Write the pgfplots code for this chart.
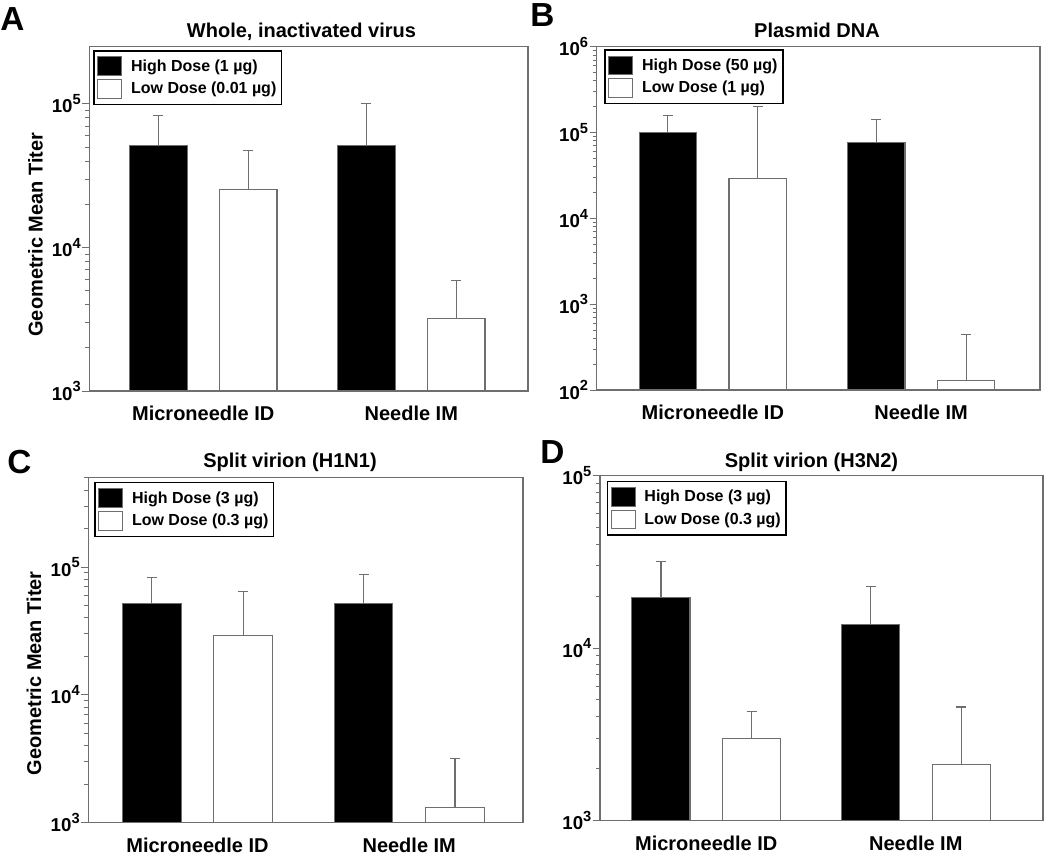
\documentclass[border=0pt]{standalone}
\usepackage{fontspec}
\setmainfont{Liberation Sans}
\usepackage{pgfplots}
\pgfplotsset{compat=1.18}
\definecolor{frm}{RGB}{110,110,110}
\pgfplotsset{
  every axis/.append style={
    scale only axis,
    xtick={1,2}, xticklabels={Microneedle ID,Needle IM},
    xtick style={draw=none},
    xticklabel style={font=\bfseries\fontsize{15}{15}\selectfont, inner sep=0pt, yshift=-6pt},
    ytick pos=left, tick align=outside,
    major tick length=5.25pt, minor tick length=3pt,
    every tick/.style={frm, line width=0.6pt},
    axis line style={frm, line width=0.9pt},
    yticklabel={\pgfmathparse{int(round(\tick/2.302585093))}10\raisebox{0.45em}{\fontsize{11}{11}\selectfont\pgfmathresult}},
    yticklabel style={font=\bfseries\fontsize{14}{14}\selectfont, inner sep=1pt},
    legend cell align=left,
    legend style={anchor=north west, draw=black, line width=1.1pt,
      font=\bfseries\fontsize{12}{14}\selectfont,
      inner xsep=2.5pt, inner ysep=4.2pt, row sep=2.2pt, column sep=5pt,
      nodes={inner sep=1.5pt, font=\bfseries\fontsize{12}{14}\selectfont}},
  },
  leg/.style={legend image code/.code={\draw[##1, line width=0.8pt] (0pt,-7pt) rectangle (18pt,7pt);}},
  hi/.style={fill=black, draw=frm, line width=0.8pt, bar shift=-0.216,
    error bars/y dir=plus, error bars/y explicit, error bars/error mark=|,
    error bars/error bar style={frm, line width=0.8pt},
    error bars/error mark options={frm, line width=0.8pt, mark size=3.75pt}},
  lo/.style={fill=white, draw=frm, line width=0.8pt, bar shift=0.216,
    error bars/y dir=plus, error bars/y explicit, error bars/error mark=|,
    error bars/error bar style={frm, line width=0.8pt},
    error bars/error mark options={frm, line width=0.8pt, mark size=3.75pt}},
}
\begin{document}
\begin{tikzpicture}
\useasboundingbox (0pt,0pt) rectangle (787.5pt,-645.75pt);
% Panel A
\begin{axis}[ymode=log, log origin=infty, ybar, bar width=0.277, leg,
  at={(66.975pt,-35.025pt)}, anchor=north west,
  width=329.0pt, height=258.2pt,
  xmin=0.452, xmax=2.561, ymin=1000, ymax=250000,
  legend style={at={(0,1)}, xshift=3pt, yshift=-2.5pt}]
\addplot[hi] coordinates {(1,51200) +- (0,32100) (2,51200) +- (0,48800)};
\addplot[lo] coordinates {(1,25500) +- (0,22000) (2,3200) +- (0,2690)};
\legend{High Dose (1 µg),Low Dose (0.01 µg)}
\end{axis}
% Panel B
\begin{axis}[ymode=log, log origin=infty, ybar, bar width=0.277, leg,
  at={(447.5pt,-35.0pt)}, anchor=north west,
  width=332.5pt, height=257.5pt,
  xmin=0.442, xmax=2.571, ymin=100, ymax=1000000,
  legend style={at={(0,1)}, xshift=5.7pt, yshift=-2pt}]
\addplot[hi] coordinates {(1,100800) +- (0,55200) (2,76000) +- (0,67000)};
\addplot[lo] coordinates {(1,29000) +- (0,170000) (2,128) +- (0,320)};
\legend{High Dose (50 µg),Low Dose (1 µg)}
\end{axis}
% Panel C
\begin{axis}[ymode=log, log origin=infty, ybar, bar width=0.277, leg,
  at={(66.2pt,-358.3pt)}, anchor=north west,
  width=326.0pt, height=258.5pt,
  xmin=0.484, xmax=2.537, ymin=1000, ymax=500000,
  legend style={at={(0,1)}, xshift=4.5pt, yshift=-3.2pt}]
\addplot[hi] coordinates {(1,51500) +- (0,31500) (2,51500) +- (0,35500)};
\addplot[lo] coordinates {(1,29200) +- (0,35400) (2,1300) +- (0,1890)};
\legend{High Dose (3 µg),Low Dose (0.3 µg)}
\end{axis}
% Panel D
\begin{axis}[ymode=log, log origin=infty, ybar, bar width=0.277, leg,
  at={(450.0pt,-356.5pt)}, anchor=north west,
  width=332.25pt, height=258.9pt,
  xmin=0.493, xmax=2.607, ymin=1000, ymax=100000,
  legend style={at={(0,1)}, xshift=5pt, yshift=-4pt}]
\addplot[hi] coordinates {(1,19500) +- (0,12300) (2,13750) +- (0,8850)};
\addplot[lo] coordinates {(1,2990) +- (0,1290) (2,2110) +- (0,2440)};
\legend{High Dose (3 µg),Low Dose (0.3 µg)}
\end{axis}
% titles
\begin{scope}[every node/.style={font=\bfseries\fontsize{15}{15}\selectfont, inner sep=0pt, anchor=base}]
\node at (226.1pt,-28.1pt) {Whole, inactivated virus};
\node at (612.75pt,-28.1pt) {Plasmid DNA};
\node at (217.5pt,-350.25pt) {Split virion (H1N1)};
\node at (608.6pt,-350.25pt) {Split virion (H3N2)};
\end{scope}
% panel letters
\begin{scope}[every node/.style={font=\bfseries\fontsize{25}{25}\selectfont, inner sep=0pt, anchor=base west}]
\node at (0pt,-22.5pt) {A};
\node at (397.5pt,-19.5pt) {B};
\node at (5.25pt,-354.75pt) {C};
\node at (405pt,-347.25pt) {D};
\end{scope}
% y labels
\begin{scope}[every node/.style={font=\bfseries\fontsize{15}{15}\selectfont, inner sep=0pt, rotate=90}]
\node at (26.6pt,-175.9pt) {Geometric Mean Titer};
\node at (25.5pt,-505pt) {Geometric Mean Titer};
\end{scope}
\end{tikzpicture}
\end{document}
